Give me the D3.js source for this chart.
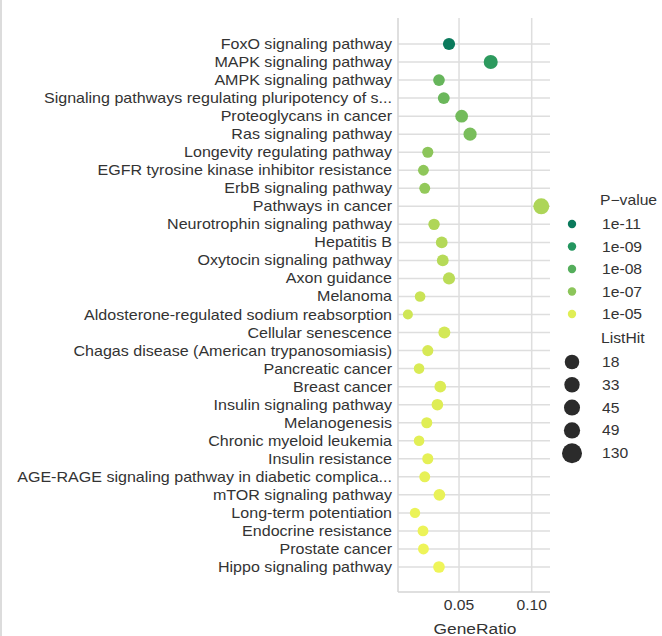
<!DOCTYPE html>
<html><head><meta charset="utf-8">
<script src="https://cdn.jsdelivr.net/npm/d3@7"></script>
<style>body{margin:0;background:#fff}svg{display:block;font-family:"Liberation Sans",Arial,sans-serif}</style>
</head><body><svg id="c" width="662" height="636"></svg>
<script>
const pathways = ["FoxO signaling pathway","MAPK signaling pathway","AMPK signaling pathway","Signaling pathways regulating pluripotency of s...","Proteoglycans in cancer","Ras signaling pathway","Longevity regulating pathway","EGFR tyrosine kinase inhibitor resistance","ErbB signaling pathway","Pathways in cancer","Neurotrophin signaling pathway","Hepatitis B","Oxytocin signaling pathway","Axon guidance","Melanoma","Aldosterone-regulated sodium reabsorption","Cellular senescence","Chagas disease (American trypanosomiasis)","Pancreatic cancer","Breast cancer","Insulin signaling pathway","Melanogenesis","Chronic myeloid leukemia","Insulin resistance","AGE-RAGE signaling pathway in diabetic complica...","mTOR signaling pathway","Long-term potentiation","Endocrine resistance","Prostate cancer","Hippo signaling pathway"];
const geneRatio = [0.0431,0.0718,0.0362,0.0395,0.0518,0.0576,0.0285,0.0255,0.0264,0.1066,0.0328,0.0381,0.0388,0.0431,0.0232,0.0148,0.0399,0.0285,0.0225,0.0371,0.0351,0.0278,0.0225,0.0285,0.0264,0.0365,0.0197,0.0252,0.0255,0.0362];
const listHit = [53,88,44,48,63,70,35,31,32,130,40,46,47,53,28,18,49,35,27,45,43,34,27,35,32,45,24,31,31,44];
const pValue = [1e-11,1.5e-9,2e-8,2.5e-8,3.5e-8,4.5e-8,1e-7,1.2e-7,1.5e-7,6e-7,7e-7,9e-7,1e-6,1.3e-6,3e-6,4e-6,5e-6,6e-6,7e-6,8e-6,9e-6,1e-5,1.1e-5,1.2e-5,1.3e-5,1.4e-5,1.5e-5,1.6e-5,1.7e-5,1.8e-5];
const pLegend = [1e-11,1e-9,1e-8,1e-7,1e-5];
const pLegendLabels = ["1e-11","1e-09","1e-08","1e-07","1e-05"];
const hitLegend = [18,33,45,49,130];
const xTicks = [0.05,0.10];

const svg = d3.select("#c");
const SX = 1.12;
const textCol = "#333";
function txt(g, x, y, s, size, anchor){
  return g.append("text").attr("transform",`translate(${x},${y}) scale(${SX},1)`)
    .attr("text-anchor",anchor||"start").attr("font-size",size).attr("fill",textCol).text(s);
}
svg.append("line").attr("x1",1).attr("x2",1).attr("y1",0).attr("y2",636).attr("stroke","#d0d0d0").attr("stroke-width",1.5);

const L=398,R=550,T=18,B=592;
const x = d3.scaleLinear().domain([0.008,0.1126]).range([L,R]);
const y = d3.scalePoint().domain(pathways).range([44,567]);
const col = d3.scaleLog().domain([1e-11,1e-9,1e-8,1e-7,1e-5,2e-5])
  .range(["#0b7a5c","#24965f","#55ae5c","#8cc55a","#e0ee55","#f2f65a"]).clamp(true);
const rS = d3.scaleLinear().domain([18,130]).range([25,64]);
const r = v => Math.sqrt(rS(v));

const grid = svg.append("g");
pathways.forEach(p=>grid.append("line").attr("x1",L).attr("x2",R).attr("y1",y(p)).attr("y2",y(p)).attr("stroke","#dedede").attr("stroke-width",1.5));
xTicks.forEach(t=>grid.append("line").attr("x1",x(t)).attr("x2",x(t)).attr("y1",T).attr("y2",B).attr("stroke","#dedede").attr("stroke-width",1.5));
grid.append("line").attr("x1",L).attr("x2",L).attr("y1",T).attr("y2",B).attr("stroke","#d4d4d4").attr("stroke-width",1.5);
grid.append("line").attr("x1",L).attr("x2",R).attr("y1",B).attr("y2",B).attr("stroke","#d4d4d4").attr("stroke-width",1.5);

const data = pathways.map((p,i)=>({p,g:geneRatio[i],h:listHit[i],pv:pValue[i]}));
svg.append("g").selectAll("circle").data(data).join("circle")
  .attr("cx",d=>x(d.g)).attr("cy",d=>y(d.p)).attr("r",d=>r(d.h)).attr("fill",d=>col(d.pv));

const yl = svg.append("g");
pathways.forEach(p=>txt(yl,392,y(p)+5,p,14.35,"end"));
const xl = svg.append("g");
xTicks.forEach(t=>txt(xl,x(t),610,d3.format(".2f")(t),14,"middle"));
txt(xl,(L+R)/2+1,634,"GeneRatio",15.5,"middle");

const lg = svg.append("g");
txt(lg,600,205,"P\u2212value",14);
pLegend.forEach((p,i)=>{
  const cy = 224 + i*22.5;
  lg.append("circle").attr("cx",572).attr("cy",cy).attr("r",4.2).attr("fill",col(p));
  txt(lg,602,cy+5,pLegendLabels[i],14);
});
txt(lg,601,343,"ListHit",14);
const lr = d3.scaleLinear().domain([18,130]).range([53,100]);
hitLegend.forEach((h,i)=>{
  const cy = 362 + i*22.8;
  lg.append("circle").attr("cx",572).attr("cy",cy).attr("r",Math.sqrt(lr(h))).attr("fill","#2b2b2b");
  txt(lg,602,cy+5,String(h),14);
});
</script></body></html>
